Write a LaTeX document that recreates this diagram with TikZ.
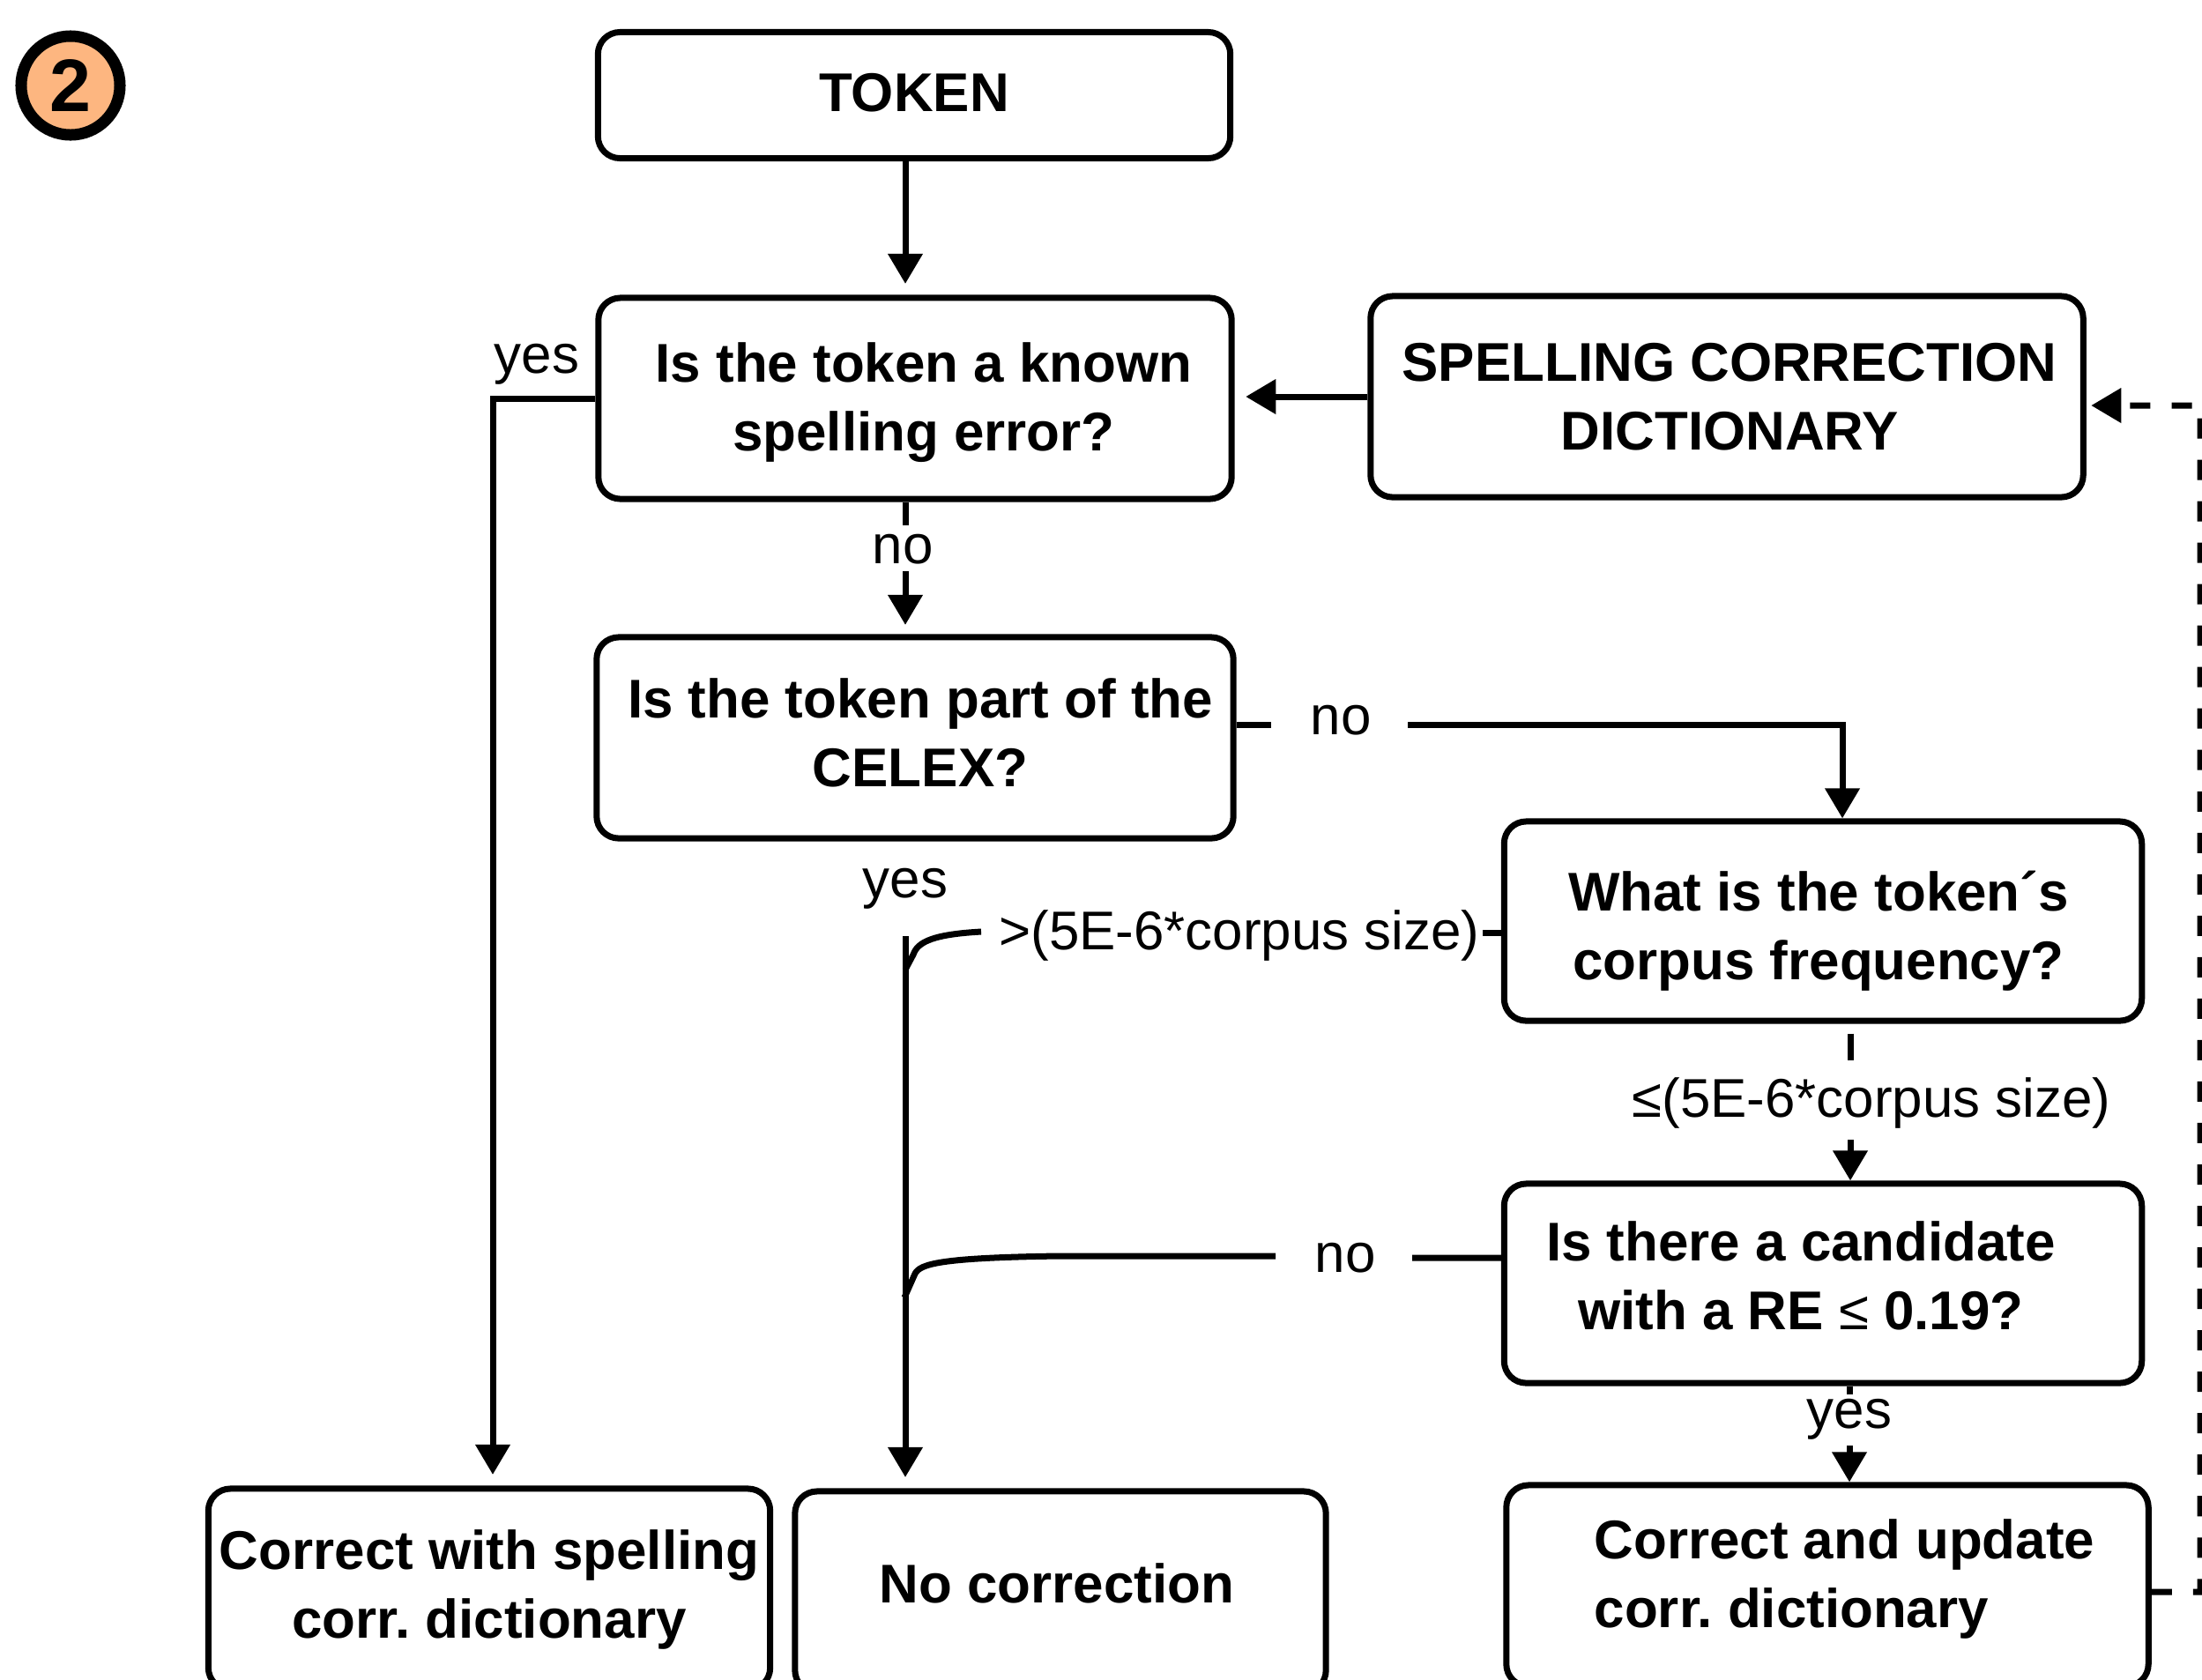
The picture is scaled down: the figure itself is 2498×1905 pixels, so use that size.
\documentclass[tikz,border=0pt]{standalone}
\usepackage{fontspec}
\setmainfont{Liberation Sans}
\usetikzlibrary{arrows.meta}
\definecolor{peach}{RGB}{253,182,128}
\newcommand{\boxfont}{\fontsize{17.6}{22.2}\selectfont\bfseries}
\newcommand{\lblfont}{\fontsize{17.6}{21}\selectfont}
\frenchspacing
\begin{document}
\begin{tikzpicture}[x=0.01cm,y=-0.01cm,
  box/.style={draw, line width=0.07cm, rounded corners=0.25cm, inner sep=0pt},
  btext/.style={font=\boxfont, inner sep=0pt, align=center},
  lbl/.style={font=\lblfont, inner sep=0pt, anchor=base},
  conn/.style={line width=0.07cm},
  arr/.style={conn, -{Triangle[width=0.38cm,length=0.34cm]}},
]
\path[use as bounding box] (0,0) rectangle (2498,1905);
\clip (0,0) rectangle (2498,1905);

% helper columns
\coordinate (mx) at (1027,0);
\coordinate (yx) at (559,0);
\coordinate (fx) at (2090,0);
\coordinate (lx) at (2099,0);
\coordinate (cx) at (2098,0);

% number badge
\node[circle, draw, line width=0.13cm, fill=peach, minimum size=1.12cm, inner sep=0pt,
      font=\fontsize{24}{24}\selectfont\bfseries] (num) at (80,97) {2};

% boxes
\node[box, minimum width=7.17cm, minimum height=1.43cm] (token) at (1037,108) {};
\node[box, minimum width=7.18cm, minimum height=2.28cm] (known) at (1038,452) {};
\node[box, minimum width=8.08cm, minimum height=2.28cm] (dict) at (1959,450) {};
\node[box, minimum width=7.22cm, minimum height=2.28cm] (celex) at (1038,837) {};
\node[box, minimum width=7.23cm, minimum height=2.26cm] (freq) at (2068,1045) {};
\node[box, minimum width=7.23cm, minimum height=2.26cm] (cand) at (2068,1456) {};
\node[box, minimum width=6.37cm, minimum height=2.28cm] (corrspell) at (555,1803) {};
\node[box, minimum width=6.02cm, minimum height=2.28cm] (nocorr) at (1203,1806) {};
\node[box, minimum width=7.28cm, minimum height=2.28cm] (update) at (2073,1799) {};

% box texts
\node[btext] (tokent) at (1037,105) {TOKEN};
\node[btext] (knownt) at (1048,457) {Is the token a known\\spelling error?};
\node[btext] (dictt) at (1962,450) {SPELLING CORRECTION\\DICTIONARY};
\node[btext] (celext) at (1044,831) {Is the token part of the\\CELEX?};
\node[btext] (freqt) at (2063,1056) {What is the token´s\\corpus frequency?};
\node[btext] (candt) at (2043,1447) {Is there a candidate\\with a RE {\mdseries ≤} 0.19?};
\node[btext] (corrspellt) at (555,1803) {Correct with spelling\\corr. dictionary};
\node[btext] (nocorrt) at (1199,1796) {No correction};
\node[btext, align=left, anchor=west] (updatet) at (1808,1791) {Correct and update\\corr. dictionary};

% labels
\node[lbl] (yes1) at (609,423) {yes};
\node[lbl] (no1) at (1024,639) {no};
\node[lbl] (no2) at (1521,833) {no};
\node[lbl] (yes2) at (1027,1018) {yes};
\node[lbl] (gt) at (1406,1077) {>(5E-6*corpus size)};
\node[lbl] (le) at (2123,1267) {≤(5E-6*corpus size)};
\node[lbl] (no3) at (1526,1443) {no};
\node[lbl] (yes3) at (2098,1620) {yes};

% connector points
\coordinate (no1s) at (1027,648);
\coordinate (no2s) at (1597,822);
\coordinate (gte) at (1113,1057);
\coordinate (mains) at (1027,1062);
\coordinate (les) at (2099,1293);
\coordinate (no3e) at (1447,1425);
\coordinate (yes3s) at (2098,1640);
\coordinate (dx) at (2496,460);

% TOKEN -> known
\draw[arr, shorten >=0.125cm] (token.south -| mx) -- (known.north -| mx);
% dictionary -> known
\draw[arr, shorten >=0.125cm] (dict.west) -- (known.east |- dict.west);
% known: yes
\draw[arr, shorten >=0.125cm] (known.west) -| (corrspell.north -| yx);
% known: no
\draw[conn] (known.south -| mx) -- ++(0,26);
\draw[arr, shorten >=0.105cm] (no1s) -- (celex.north -| mx);
% CELEX: no
\draw[conn] ([yshift=0.15cm]celex.east) -- ++(39,0);
\draw[arr] (no2s) -| (freq.north -| fx);
% corpus frequency: >
\draw[conn] ([yshift=-0.13cm]freq.west) -- ++(-21,0);
\draw[conn] (gte) .. controls (1060,1060) and (1041,1068) .. (1036,1083) -- (1027,1100);
% main vertical to No correction
\draw[arr, shorten >=0.125cm] (mains) -- (nocorr.north -| mx);
% corpus frequency: <=
\draw[conn, shorten <=0.11cm] (freq.south -| lx) -- ++(0,41.5);
\draw[arr] (les) -- (cand.north -| lx);
% candidate: no
\draw[conn] ([yshift=0.29cm]cand.west) -- (1602,1427);
\draw[conn] (no3e) -- (1200,1425) .. controls (1065,1427) and (1044,1434) .. (1038,1445) -- (1026,1472);
% candidate: yes
\draw[conn] (cand.south -| cx) -- ++(0,9.5);
\draw[arr] (yes3s) -- (update.north -| cx);
% update -> dictionary (dashed)
\draw[arr, dash pattern=on 0.23cm off 0.24cm, shorten >=0.055cm]
  ([yshift=-0.07cm]update.east) -| (dx) -- ([yshift=-0.10cm]dict.east);
\end{tikzpicture}
\end{document}
